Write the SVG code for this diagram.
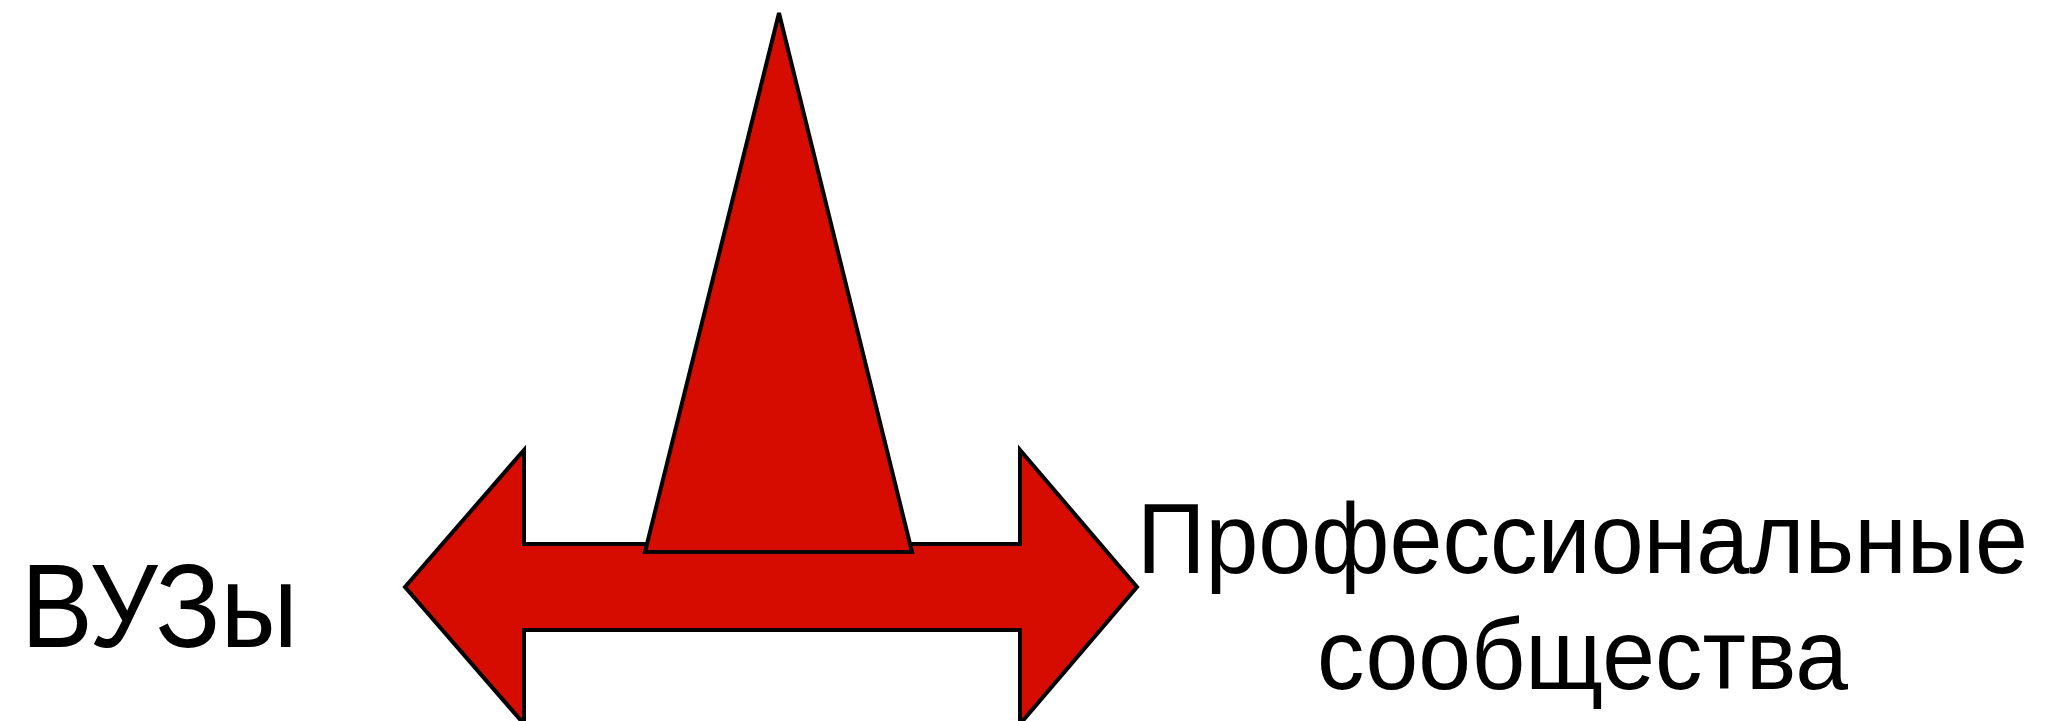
<svg xmlns="http://www.w3.org/2000/svg" width="2067" height="721" viewBox="0 0 2067 721">
<style>
.shape{fill:#d60c00;stroke:#000;stroke-width:4;stroke-linejoin:miter}
.lbl{font-family:"Liberation Sans",Arial,sans-serif;fill:#000}
</style>
<rect width="2067" height="721" fill="#fff"/>
<g id="double-arrow">
<polygon class="shape" points="405,587 524,450 524,544 1020,544 1020,450 1137,587 1020,724 1020,630 524,630 524,724"/>
</g>
<g id="triangle">
<polygon class="shape" points="779,13 912,552 645,552"/>
</g>
<g id="vuzy">
<text class="lbl" x="21" y="647" font-size="118" textLength="277" lengthAdjust="spacingAndGlyphs">ВУЗы</text>
</g>
<g id="prof">
<text class="lbl" x="1137" y="573" font-size="100" textLength="891" lengthAdjust="spacingAndGlyphs">Профессиональные</text>
<text class="lbl" x="1317" y="689" font-size="100" textLength="531" lengthAdjust="spacingAndGlyphs">сообщества</text>
</g>
<g id="connectors"/>
</svg>
